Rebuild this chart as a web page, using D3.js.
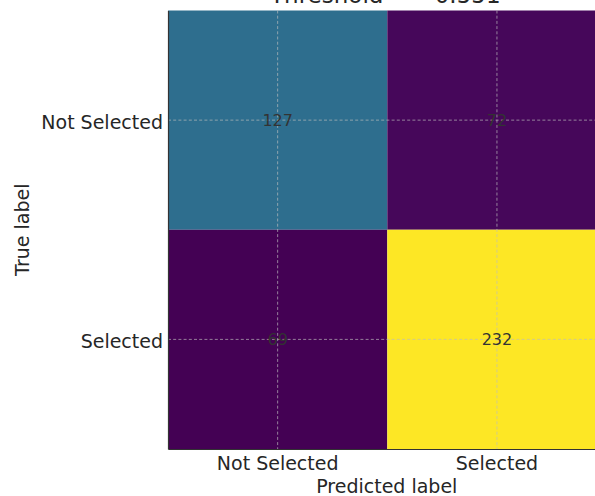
<!DOCTYPE html>
<html>
<head>
<meta charset="utf-8">
<script src="https://cdn.jsdelivr.net/npm/d3@7"></script>
<style>
  html, body { margin: 0; padding: 0; background: #fff; }
  svg { display: block; font-family: "DejaVu Sans", sans-serif; }
</style>
</head>
<body>
<svg id="chart" width="595" height="496"></svg>
<script>
// Confusion matrix for the classifier at the chosen decision threshold
const trueLabels = ["Not Selected", "Selected"];
const predLabels = ["Not Selected", "Selected"];
const counts = [
  [127, 72],
  [69, 232]
];
const titleText = ["Threshold", "=", "0.551"];
const xAxisTitle = "Predicted label";
const yAxisTitle = "True label";

const svg = d3.select("#chart");
const plot = { left: 168, top: 10.5, right: 606.6, bottom: 449 };

const x = d3.scaleBand().domain(predLabels).range([plot.left, plot.right]);
const y = d3.scaleBand().domain(trueLabels).range([plot.top, plot.bottom]);

const flat = counts.flat();
const color = d3.scaleSequential(d3.interpolateViridis)
  .domain([d3.min(flat), d3.max(flat)]);

const cells = [];
trueLabels.forEach((t, i) => predLabels.forEach((p, j) => {
  cells.push({ t, p, v: counts[i][j] });
}));

// heatmap cells
svg.append("g").selectAll("rect").data(cells).join("rect")
  .attr("x", d => x(d.p))
  .attr("y", d => y(d.t))
  .attr("width", x.bandwidth())
  .attr("height", y.bandwidth())
  .attr("fill", d => color(d.v));

// dashed grid through the cell centres
const grid = svg.append("g")
  .attr("stroke", "rgba(190,190,190,0.75)")
  .attr("stroke-width", 0.9)
  .attr("stroke-dasharray", "3,2.2");
predLabels.forEach(p => {
  const cx = x(p) + x.bandwidth() / 2;
  grid.append("line").attr("x1", cx).attr("x2", cx)
    .attr("y1", plot.top).attr("y2", plot.bottom);
});
trueLabels.forEach(t => {
  const cy = y(t) + y.bandwidth() / 2;
  grid.append("line").attr("y1", cy).attr("y2", cy)
    .attr("x1", plot.left).attr("x2", plot.right);
});

// cell counts
svg.append("g").selectAll("text").data(cells).join("text")
  .attr("x", d => x(d.p) + x.bandwidth() / 2)
  .attr("y", d => y(d.t) + y.bandwidth() / 2)
  .attr("dy", "0.36em")
  .attr("text-anchor", "middle")
  .attr("font-size", 16)
  .attr("fill", "#333")
  .text(d => d.v);

// axes
const xAxis = svg.append("g")
  .attr("transform", `translate(0,${plot.bottom})`)
  .call(d3.axisBottom(x).tickSize(0).tickPadding(8));
const yAxis = svg.append("g")
  .attr("transform", `translate(${plot.left},0)`)
  .call(d3.axisLeft(y).tickSize(0).tickPadding(5));
[xAxis, yAxis].forEach(a => {
  a.selectAll("text").attr("font-size", 19).attr("fill", "#262626")
    .attr("font-family", "DejaVu Sans, sans-serif");
  a.select(".domain").attr("stroke", "#333").attr("stroke-width", 1.2);
});
yAxis.selectAll("text").attr("dy", "0.45em");

// axis titles
svg.append("text")
  .attr("x", (plot.left + plot.right) / 2 - 0.5)
  .attr("y", 492.5)
  .attr("text-anchor", "middle")
  .attr("font-size", 19)
  .attr("fill", "#262626")
  .text(xAxisTitle);
svg.append("text")
  .attr("transform", `translate(29,${(plot.top + plot.bottom) / 2}) rotate(-90)`)
  .attr("text-anchor", "middle")
  .attr("font-size", 19)
  .attr("fill", "#262626")
  .text(yAxisTitle);

// title (sits mostly above the visible area)
const title = svg.append("text")
  .attr("x", (plot.left + plot.right) / 2 - 2)
  .attr("y", 2.5)
  .attr("text-anchor", "middle")
  .attr("font-size", 23)
  .attr("fill", "#262626");
title.append("tspan").text(titleText[0]);
title.append("tspan").attr("dx", 16).text(titleText[1]);
title.append("tspan").attr("dx", 16).text(titleText[2]);
</script>
</body>
</html>
